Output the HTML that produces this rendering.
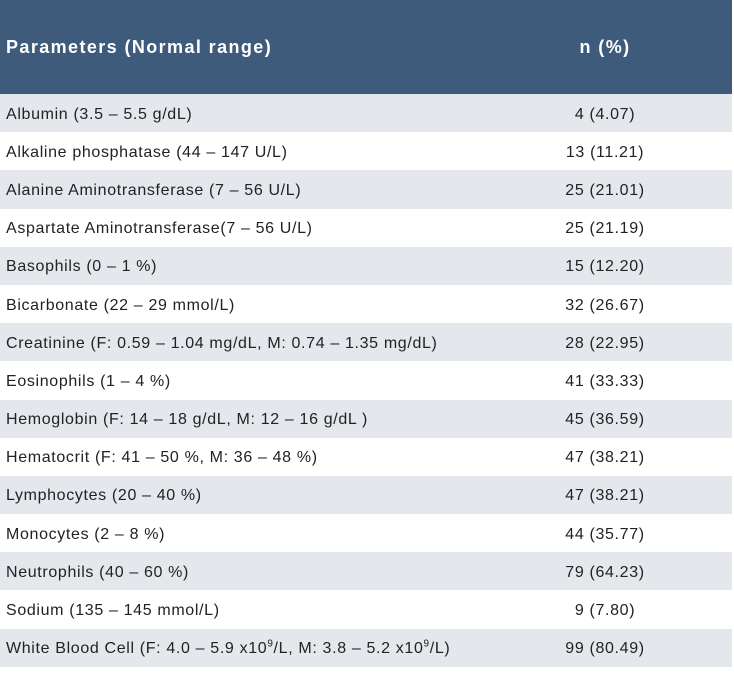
<!DOCTYPE html>
<html><head><style>
body{margin:0;background:#fff;font-family:"Liberation Sans",Arial,sans-serif;}
table{border-collapse:collapse;width:732px;position:absolute;left:0;top:0;}
th{background:#3e5b7c;color:#fff;font-size:18px;letter-spacing:1.4px;font-weight:bold;height:94px;text-align:left;padding:0 0 0 6px;}
th.n{text-align:center;padding:0;}
td{height:38.2px;padding:3px 0 0 6px;box-sizing:border-box;font-size:16px;letter-spacing:0.65px;color:#222;}
td.n{text-align:center;padding:3px 0 0 0;width:254px;}
tr:nth-child(odd) td{background:#e4e7eb;}
sup{font-size:10px;line-height:0;}
</style></head><body>
<table>
<thead><tr><th>Parameters (Normal range)</th><th class="n">n (%)</th></tr></thead>
<tbody>
<tr><td>Albumin (3.5 – 5.5 g/dL)</td><td class="n">4 (4.07)</td></tr>
<tr><td>Alkaline phosphatase (44 – 147 U/L)</td><td class="n">13 (11.21)</td></tr>
<tr><td>Alanine Aminotransferase (7 – 56 U/L)</td><td class="n">25 (21.01)</td></tr>
<tr><td>Aspartate Aminotransferase(7 – 56 U/L)</td><td class="n">25 (21.19)</td></tr>
<tr><td>Basophils (0 – 1 %)</td><td class="n">15 (12.20)</td></tr>
<tr><td>Bicarbonate (22 – 29 mmol/L)</td><td class="n">32 (26.67)</td></tr>
<tr><td>Creatinine (F: 0.59 – 1.04 mg/dL, M: 0.74 – 1.35 mg/dL)</td><td class="n">28 (22.95)</td></tr>
<tr><td>Eosinophils (1 – 4 %)</td><td class="n">41 (33.33)</td></tr>
<tr><td>Hemoglobin (F: 14 – 18 g/dL, M: 12 – 16 g/dL )</td><td class="n">45 (36.59)</td></tr>
<tr><td>Hematocrit (F: 41 – 50 %, M: 36 – 48 %)</td><td class="n">47 (38.21)</td></tr>
<tr><td>Lymphocytes (20 – 40 %)</td><td class="n">47 (38.21)</td></tr>
<tr><td>Monocytes (2 – 8 %)</td><td class="n">44 (35.77)</td></tr>
<tr><td>Neutrophils (40 – 60 %)</td><td class="n">79 (64.23)</td></tr>
<tr><td>Sodium (135 – 145 mmol/L)</td><td class="n">9 (7.80)</td></tr>
<tr><td>White Blood Cell (F: 4.0 – 5.9 x10<sup>9</sup>/L, M: 3.8 – 5.2 x10<sup>9</sup>/L)</td><td class="n">99 (80.49)</td></tr>
</tbody></table>
</body></html>
